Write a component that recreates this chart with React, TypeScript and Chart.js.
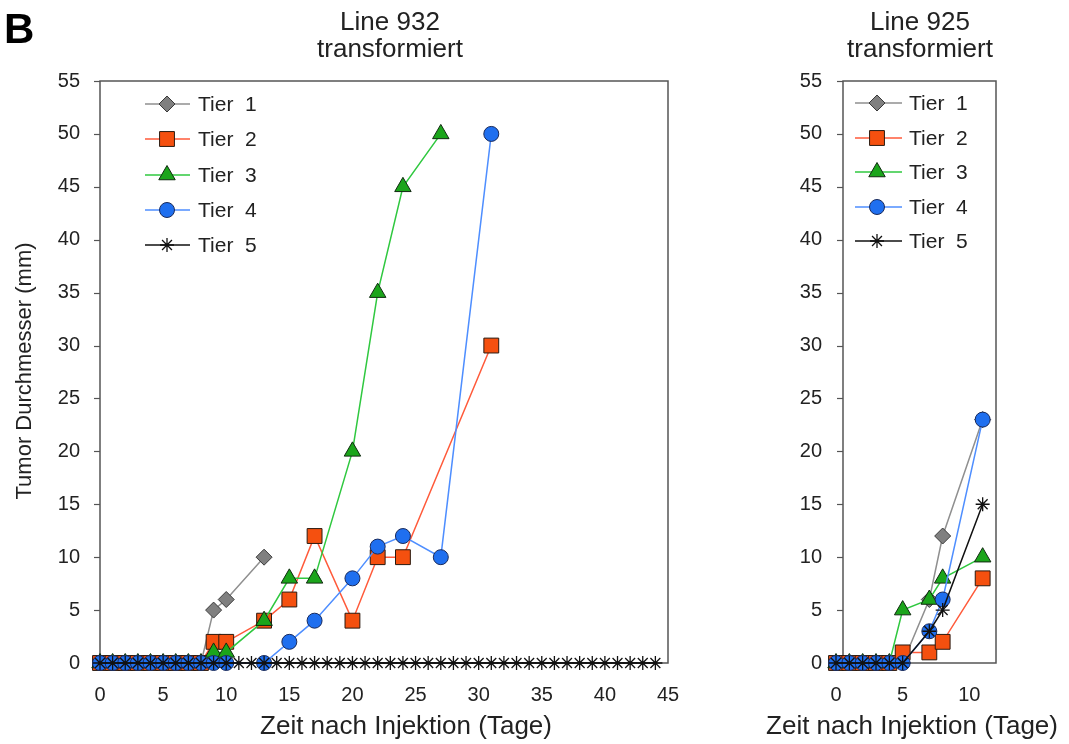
import React, { useEffect, useRef } from 'react';
import { Chart, registerables } from 'chart.js';

Chart.register(...registerables);

const FONT = "'Liberation Sans', Arial, Helvetica, sans-serif";

// ---------- data ----------
const SERIES_NAMES = ['Tier  1', 'Tier  2', 'Tier  3', 'Tier  4', 'Tier  5'];
const Y_TICKS = [0, 5, 10, 15, 20, 25, 30, 35, 40, 45, 50, 55];

// Line 932 transformiert
const L932_X_TICKS = [0, 5, 10, 15, 20, 25, 30, 35, 40, 45];
const L932_T1_X = [0, 1, 2, 3, 4, 5, 6, 7, 8, 9, 10, 13];
const L932_T1_Y = [0, 0, 0, 0, 0, 0, 0, 0, 0, 5, 6, 10];
const L932_T2_X = [0, 1, 2, 3, 4, 5, 6, 7, 8, 9, 10, 13, 15, 17, 20, 22, 24, 31];
const L932_T2_Y = [0, 0, 0, 0, 0, 0, 0, 0, 0, 2, 2, 4, 6, 12, 4, 10, 10, 30];
const L932_T3_X = [0, 1, 2, 3, 4, 5, 6, 7, 8, 9, 10, 13, 15, 17, 20, 22, 24, 27];
const L932_T3_Y = [0, 0, 0, 0, 0, 0, 0, 0, 0, 1, 1, 4, 8, 8, 20, 35, 45, 50];
const L932_T4_X = [0, 1, 2, 3, 4, 5, 6, 7, 8, 9, 10, 13, 15, 17, 20, 22, 24, 27, 31];
const L932_T4_Y = [0, 0, 0, 0, 0, 0, 0, 0, 0, 0, 0, 0, 2, 4, 8, 11, 12, 10, 50];
const L932_T5_X = [0, 1, 2, 3, 4, 5, 6, 7, 8, 9, 10, 11, 12, 13, 14, 15, 16, 17, 18, 19, 20, 21, 22,
  23, 24, 25, 26, 27, 28, 29, 30, 31, 32, 33, 34, 35, 36, 37, 38, 39, 40, 41, 42, 43, 44];
const L932_T5_Y = [0, 0, 0, 0, 0, 0, 0, 0, 0, 0, 0, 0, 0, 0, 0, 0, 0, 0, 0, 0, 0, 0, 0,
  0, 0, 0, 0, 0, 0, 0, 0, 0, 0, 0, 0, 0, 0, 0, 0, 0, 0, 0, 0, 0, 0];

// Line 925 transformiert
const L925_X_TICKS = [0, 5, 10];
const L925_X = [0, 1, 2, 3, 4, 5, 7, 8, 11];
const L925_T1_Y = [0, 0, 0, 0, 0, 0, 6, 12, 23];
const L925_T2_Y = [0, 0, 0, 0, 0, 1, 1, 2, 8];
const L925_T3_Y = [0, 0, 0, 0, 0, 5, 6, 8, 10];
const L925_T4_Y = [0, 0, 0, 0, 0, 0, 3, 6, 23];
const L925_T5_Y = [0, 0, 0, 0, 0, 0, 3, 5, 15];

const TITLE_932 = ['Line 932', 'transformiert'];
const TITLE_925 = ['Line 925', 'transformiert'];
const X_TITLE = 'Zeit nach Injektion (Tage)';
const Y_TITLE = 'Tumor Durchmesser (mm)';
const PANEL_LABEL = 'B';

// ---------- styles ----------
type St = { ps: string; r: number; fill: string; stroke: string; line: string; bw: number };
const STYLES: St[] = [
  { ps: 'rectRot', r: 8, fill: '#808080', stroke: '#3a3a3a', line: '#8f8f8f', bw: 1 },
  { ps: 'rect', r: 10.5, fill: '#F5500F', stroke: '#2a1a10', line: '#FF5a3a', bw: 1 },
  { ps: 'triangle', r: 9.5, fill: '#1BA51B', stroke: '#102a10', line: '#2FC83F', bw: 1 },
  { ps: 'circle', r: 7.5, fill: '#1F6FEF', stroke: '#1a2a5a', line: '#4E8EFF', bw: 1 },
  { ps: 'star', r: 7, fill: '#111111', stroke: '#111111', line: '#111111', bw: 1.3 },
];

function makeDatasets(xs: number[][], ys: number[][]) {
  return ys.map((yArr, i) => {
    const s = STYLES[i];
    return {
      label: SERIES_NAMES[i],
      data: yArr.map((y, j) => ({ x: xs[i][j], y })),
      showLine: true,
      borderColor: s.line,
      borderWidth: 1.5,
      pointStyle: s.ps,
      pointRadius: s.r,
      pointBackgroundColor: s.fill,
      pointBorderColor: s.stroke,
      pointBorderWidth: s.bw,
      clip: false as any,
      order: 5 - i,
    };
  });
}

function drawMarker(ctx: CanvasRenderingContext2D, s: St, x: number, y: number) {
  const r = s.r;
  ctx.beginPath();
  if (s.ps === 'rectRot') {
    ctx.moveTo(x, y - r); ctx.lineTo(x + r, y); ctx.lineTo(x, y + r); ctx.lineTo(x - r, y); ctx.closePath();
  } else if (s.ps === 'rect') {
    const h = r * Math.SQRT1_2;
    ctx.rect(x - h, y - h, 2 * h, 2 * h);
  } else if (s.ps === 'triangle') {
    let a = 0;
    ctx.moveTo(x + Math.sin(a) * r, y - Math.cos(a) * r);
    a += (2 * Math.PI) / 3;
    ctx.lineTo(x + Math.sin(a) * r, y - Math.cos(a) * r);
    a += (2 * Math.PI) / 3;
    ctx.lineTo(x + Math.sin(a) * r, y - Math.cos(a) * r);
    ctx.closePath();
  } else if (s.ps === 'circle') {
    ctx.arc(x, y, r, 0, Math.PI * 2);
  } else {
    ctx.moveTo(x, y - r); ctx.lineTo(x, y + r);
    ctx.moveTo(x - r, y); ctx.lineTo(x + r, y);
    const d = r * Math.SQRT1_2;
    ctx.moveTo(x - d, y - d); ctx.lineTo(x + d, y + d);
    ctx.moveTo(x - d, y + d); ctx.lineTo(x + d, y - d);
    ctx.strokeStyle = s.stroke; ctx.lineWidth = s.bw; ctx.stroke();
    return;
  }
  ctx.fillStyle = s.fill; ctx.fill();
  ctx.strokeStyle = s.stroke; ctx.lineWidth = s.bw; ctx.stroke();
}

type Decor = {
  boxOffset: number;
  title: string[]; titleX: number; titleY: number[];
  xTitleX: number; xTitleY: number;
  yTitle?: boolean;
  legend: { x0: number; x1: number; mx: number; tx: number; rows: number[] };
  panel?: boolean;
};

function makeDecor(o: Decor) {
  return {
    id: 'decor',
    beforeDatasetsDraw(chart: any) {
      const { ctx, chartArea: a } = chart;
      const bl = a.left + o.boxOffset;
      ctx.save();
      ctx.strokeStyle = '#555';
      ctx.lineWidth = 1.5;
      ctx.strokeRect(bl, a.top, a.right - bl, a.bottom - a.top);
      const ys = chart.scales.y;
      ctx.lineWidth = 1.2;
      ys.ticks.forEach((t: any) => {
        const py = Math.round(ys.getPixelForValue(t.value)) + 0.5;
        ctx.beginPath(); ctx.moveTo(bl - 6, py); ctx.lineTo(bl, py); ctx.stroke();
      });
      ctx.restore();
    },
    afterDatasetsDraw(chart: any) {
      const { ctx } = chart;
      ctx.save();
      const L = o.legend;
      SERIES_NAMES.forEach((name, i) => {
        const y = L.rows[i];
        const s = STYLES[i];
        ctx.beginPath();
        ctx.moveTo(L.x0, y); ctx.lineTo(L.x1, y);
        ctx.strokeStyle = s.line; ctx.lineWidth = 1.5; ctx.stroke();
        drawMarker(ctx, s, L.mx, y);
        ctx.fillStyle = '#222';
        ctx.font = `21px ${FONT}`;
        ctx.textAlign = 'left';
        ctx.textBaseline = 'middle';
        ctx.fillText(name, L.tx, y + 1);
      });
      ctx.restore();
    },
    afterDraw(chart: any) {
      const { ctx } = chart;
      ctx.save();
      ctx.fillStyle = '#222';
      ctx.textAlign = 'center';
      ctx.textBaseline = 'middle';
      ctx.font = `26px ${FONT}`;
      o.title.forEach((t, i) => ctx.fillText(t, o.titleX, o.titleY[i]));
      ctx.font = `26px ${FONT}`;
      ctx.fillText(X_TITLE, o.xTitleX, o.xTitleY);
      if (o.yTitle) {
        ctx.save();
        ctx.translate(25, 371);
        ctx.rotate(-Math.PI / 2);
        ctx.font = `22px ${FONT}`;
        ctx.fillText(Y_TITLE, 0, 0);
        ctx.restore();
      }
      if (o.panel) {
        ctx.font = `bold 42px ${FONT}`;
        ctx.textAlign = 'left';
        ctx.textBaseline = 'alphabetic';
        ctx.fillStyle = '#000';
        ctx.fillText(PANEL_LABEL, 4, 43);
      }
      ctx.restore();
    },
  };
}

function makeConfig(p: {
  datasets: any[]; xMax: number; xTicks: number[]; yWidth: number; padRight: number; yPad: number; decor: Decor;
}) {
  const tickFont = { family: FONT, size: 20 };
  return {
    type: 'scatter' as const,
    data: { datasets: p.datasets },
    options: {
      animation: false as const,
      responsive: false,
      devicePixelRatio: 1,
      layout: { padding: { left: 0, top: 81, right: p.padRight, bottom: 0 } },
      plugins: { legend: { display: false }, tooltip: { enabled: false }, title: { display: false } },
      scales: {
        x: {
          type: 'linear' as const,
          min: 0,
          max: p.xMax,
          afterBuildTicks: (s: any) => { s.ticks = p.xTicks.map((v) => ({ value: v })); },
          afterFit: (s: any) => { s.height = 81; },
          grid: { display: false, drawTicks: false },
          border: { display: false },
          ticks: { font: tickFont, color: '#222', padding: 20, maxRotation: 0, autoSkip: false },
        },
        y: {
          type: 'linear' as const,
          min: 0,
          max: 55,
          afterBuildTicks: (s: any) => { s.ticks = Y_TICKS.map((v) => ({ value: v })); },
          afterFit: (s: any) => { s.width = p.yWidth; },
          grid: { display: false, drawTicks: false },
          border: { display: false },
          ticks: { font: tickFont, color: '#222', padding: p.yPad, autoSkip: false },
        },
      },
    },
    plugins: [makeDecor(p.decor)],
  };
}

function Panel({ make, left, width }: { make: () => any; left: number; width: number }) {
  const ref = useRef<HTMLCanvasElement>(null);
  useEffect(() => {
    const chart = new Chart(ref.current as HTMLCanvasElement, make());
    return () => chart.destroy();
  }, []);
  return (
    <canvas
      ref={ref}
      width={width}
      height={744}
      style={{ position: 'absolute', left, top: 0, width, height: 744 }}
    />
  );
}

const LEFT_W = 700;
const RIGHT_W = 369;

export default function App() {
  const makeLeft = () =>
    makeConfig({
      datasets: makeDatasets(
        [L932_T1_X, L932_T2_X, L932_T3_X, L932_T4_X, L932_T5_X],
        [L932_T1_Y, L932_T2_Y, L932_T3_Y, L932_T4_Y, L932_T5_Y]
      ),
      xMax: 45,
      xTicks: L932_X_TICKS,
      yWidth: 100,
      padRight: LEFT_W - 668,
      yPad: 20,
      decor: {
        boxOffset: 0,
        title: TITLE_932,
        titleX: 390,
        titleY: [23, 50],
        xTitleX: 406,
        xTitleY: 727,
        yTitle: true,
        legend: { x0: 145, x1: 190, mx: 167, tx: 198, rows: [104, 139, 175, 210, 245] },
        panel: true,
      },
    });
  const makeRight = () =>
    makeConfig({
      datasets: makeDatasets(
        [L925_X, L925_X, L925_X, L925_X, L925_X],
        [L925_T1_Y, L925_T2_Y, L925_T3_Y, L925_T4_Y, L925_T5_Y]
      ),
      xMax: 12,
      xTicks: L925_X_TICKS,
      yWidth: 136,
      padRight: RIGHT_W - 296,
      yPad: 14,
      decor: {
        boxOffset: 7,
        title: TITLE_925,
        titleX: 220,
        titleY: [23, 50],
        xTitleX: 212,
        xTitleY: 727,
        legend: { x0: 155, x1: 202, mx: 177, tx: 209, rows: [103, 138, 172, 207, 241] },
      },
    });
  return (
    <div style={{ position: 'fixed', left: 0, top: 0, width: 1069, height: 744, background: '#fff', overflow: 'hidden' }}>
      <Panel make={makeLeft} left={0} width={LEFT_W} />
      <Panel make={makeRight} left={LEFT_W} width={RIGHT_W} />
    </div>
  );
}
